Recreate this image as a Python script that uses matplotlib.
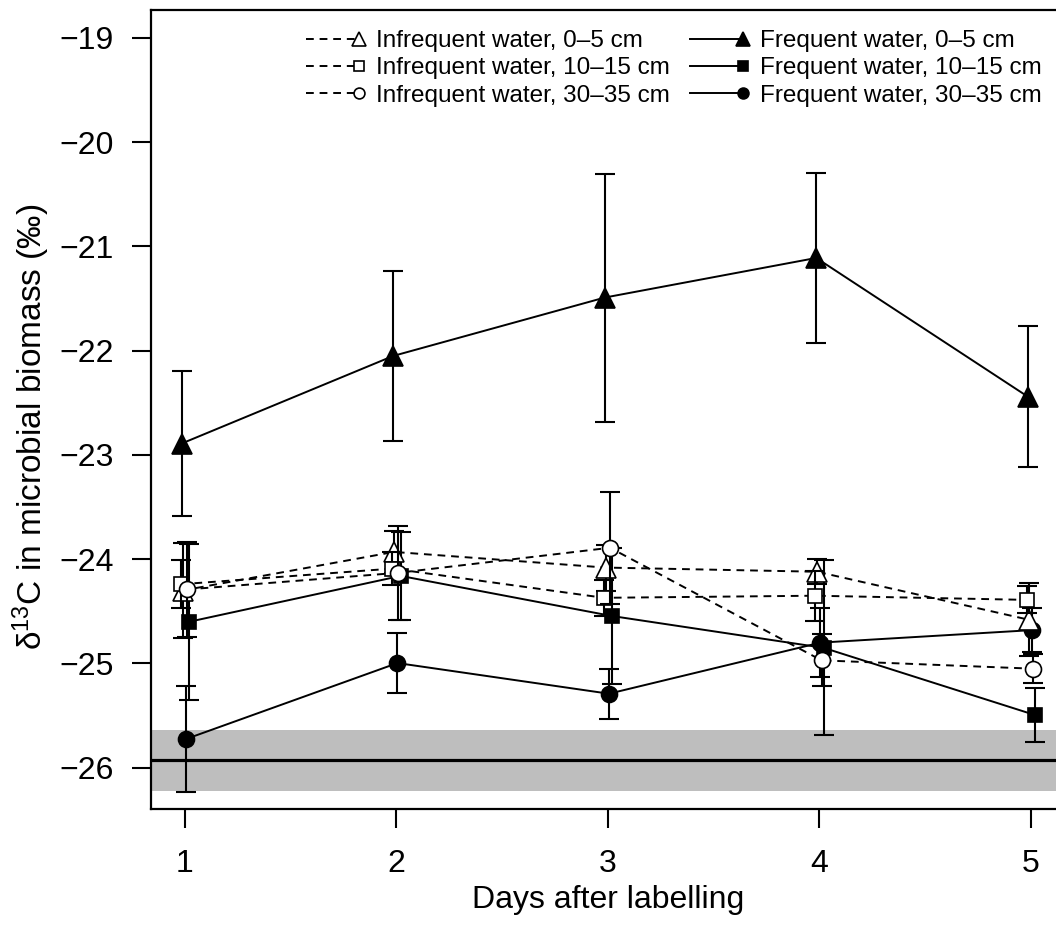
import numpy as np
import matplotlib
matplotlib.use("Agg")
import matplotlib.pyplot as plt
from matplotlib.legend_handler import HandlerLine2D

plt.rcParams['font.family'] = ['Liberation Sans', 'DejaVu Sans']
plt.rcParams['mathtext.fontset'] = 'custom'
plt.rcParams['mathtext.rm'] = 'Liberation Sans'
plt.rcParams['mathtext.default'] = 'regular'

days = [1, 2, 3, 4, 5]

# Infrequent water (open symbols, dashed)
inf_0_5 = [-24.30, -23.93, -24.08, -24.12, -24.58]
inf_0_5_se = [0.46, 0.20, 0.22, 0.12, 0.35]
inf_10_15 = [-24.24, -24.09, -24.37, -24.35, -24.39]
inf_10_15_se = [0.23, 0.16, 0.17, 0.24, 0.13]
inf_30_35 = [-24.29, -24.13, -23.89, -24.97, -25.05]
inf_30_35_se = [0.46, 0.45, 0.535, 0.25, 0.14]

# Frequent water (filled symbols, solid)
fre_0_5 = [-22.89, -22.05, -21.49, -21.11, -22.44]
fre_0_5_se = [0.70, 0.815, 1.19, 0.815, 0.68]
fre_10_15 = [-24.60, -24.16, -24.545, -24.85, -25.495]
fre_10_15_se = [0.75, 0.42, 0.65, 0.84, 0.26]
fre_30_35 = [-25.725, -24.996, -25.29, -24.80, -24.68]
fre_30_35_se = [0.51, 0.29, 0.24, 0.33, 0.21]

# background (unlabelled soil) mean +- sd
bg_mean = -25.93
bg_sd = 0.29

labels = ['Infrequent water, 0–5 cm', 'Infrequent water, 10–15 cm',
          'Infrequent water, 30–35 cm', 'Frequent water, 0–5 cm',
          'Frequent water, 10–15 cm', 'Frequent water, 30–35 cm']


class EndMarker(HandlerLine2D):
    # put the marker at the right end of the legend line
    def create_artists(self, *args, **kwargs):
        arts = super().create_artists(*args, **kwargs)
        for a in arts:
            a.set_markevery([2])
        return arts


fig = plt.figure(figsize=(10.56, 9.25), dpi=100)
ax = fig.add_axes([0.1430, 0.1254, 0.8653, 0.8643])

ax.axhspan(bg_mean - bg_sd, bg_mean + bg_sd, color='#bebebe', lw=0, zorder=0)
ax.axhline(bg_mean, color='black', lw=2.3, zorder=1)

series = [
    (fre_0_5, fre_0_5_se, '^', 'black', '-', 14, -0.015),
    (fre_10_15, fre_10_15_se, 's', 'black', '-', 10.5, 0.02),
    (fre_30_35, fre_30_35_se, 'o', 'black', '-', 11.5, 0.005),
    (inf_0_5, inf_0_5_se, '^', 'white', (0, (4, 3)), 14, -0.011),
    (inf_10_15, inf_10_15_se, 's', 'white', (0, (4, 3)), 10.5, -0.019),
    (inf_30_35, inf_30_35_se, 'o', 'white', (0, (4, 3)), 11.5, 0.01),
]

handles = []
for i, (y, se, mk, fc, ls, ms, off) in enumerate(series):
    x = np.array(days) + off
    ax.errorbar(x, y, yerr=se, fmt='none', ecolor='black', elinewidth=1.5,
                capsize=7, capthick=1.5, zorder=2 + i)
    h, = ax.plot(x, y, color='black', ls=ls, lw=1.4, marker=mk, ms=ms,
                 mfc=fc, mec='black', mew=1.2, zorder=2.5 + i)
    handles.append(h)

leg_order = [3, 4, 5, 0, 1, 2]
leg = fig.legend([handles[k] for k in leg_order], labels, ncol=2, frameon=False,
                 loc='upper right', bbox_to_anchor=(1042 / 1056, 1 - 30 / 925),
                 fontsize=17.5, handlelength=2.2, handletextpad=0.7,
                 columnspacing=0.8, labelspacing=0.22, markerscale=0.68,
                 borderpad=0, borderaxespad=0,
                 handler_map={h: EndMarker() for h in handles})

ax.set_xlim(0.84, 5.16)
ax.set_ylim(-26.396, -18.727)
ax.set_xticks(days)
ax.set_yticks([-26, -25, -24, -23, -22, -21, -20, -19])
ax.tick_params(axis='both', length=14, width=1.5)
ax.tick_params(axis='x', labelsize=23, pad=15)
ax.tick_params(axis='y', labelsize=23, pad=13)
for s in ax.spines.values():
    s.set_linewidth(1.6)

ax.set_xlabel('Days after labelling', fontsize=23, labelpad=4)
ax.set_ylabel(r'δ$^{13}$C in microbial biomass (‰)', fontsize=24)
ax.yaxis.set_label_coords(-0.108, 0.478)

fig.savefig('out.png', dpi=100)
